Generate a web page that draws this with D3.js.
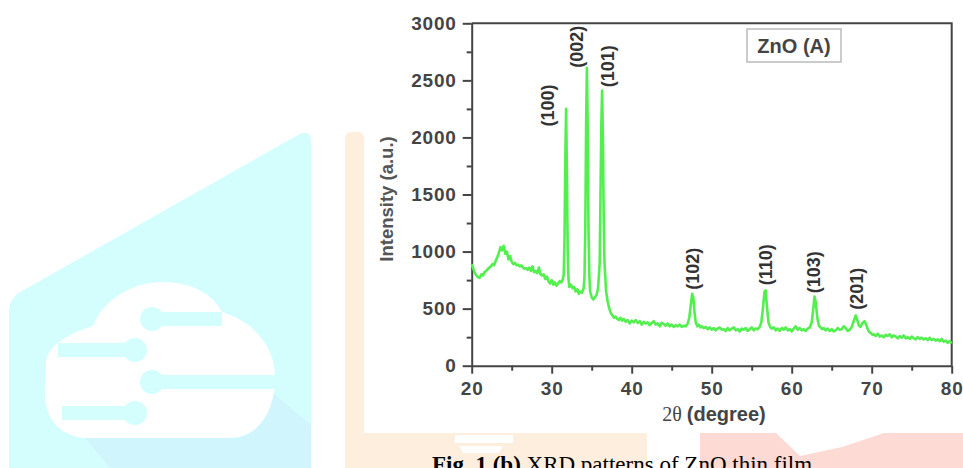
<!DOCTYPE html>
<html>
<head>
<meta charset="utf-8">
<script src="https://cdn.jsdelivr.net/npm/d3@7"></script>
<style>
  body { margin: 0; background: #fff; }
  svg { display: block; }
  .tick text { font-family: "Liberation Sans", Arial, sans-serif; font-weight: bold; font-size: 19px; fill: #444; letter-spacing: 0.8px; }
  .domain, .tick line { stroke: #444; stroke-width: 2; }
</style>
</head>
<body>
<svg width="963" height="468"></svg>
<script>
// XRD pattern of ZnO film (A)
const angle = [
  20.0, 20.2, 20.4, 20.6, 20.8, 21.0, 21.2, 21.4, 21.6, 21.8, 22.0, 22.2, 22.4, 22.6, 22.8,
  23.0, 23.2, 23.4, 23.6, 23.8, 24.0, 24.2, 24.4, 24.6, 24.8, 25.0, 25.2, 25.4, 25.6, 25.8,
  26.0, 26.2, 26.4, 26.6, 26.8, 27.0, 27.2, 27.4, 27.6, 27.8, 28.0, 28.2, 28.4, 28.6, 28.8,
  29.0, 29.2, 29.4, 29.6, 29.8, 30.0, 30.2, 30.4, 30.6, 30.8, 31.0, 31.2, 31.4, 31.5, 31.6,
  31.7, 31.8, 31.9, 32.0, 32.1, 32.2, 32.4, 32.6, 32.8, 33.0, 33.2, 33.4, 33.6, 33.8, 34.0,
  34.1, 34.2, 34.3, 34.4, 34.5, 34.6, 34.7, 34.8, 35.0, 35.2, 35.4, 35.6, 35.8, 36.0, 36.1,
  36.2, 36.3, 36.4, 36.5, 36.6, 36.8, 37.0, 37.2, 37.4, 37.6, 37.8, 38.0, 38.2, 38.4, 38.6,
  38.8, 39.0, 39.25, 39.5, 39.75, 40.0, 40.25, 40.5, 40.75, 41.0, 41.25, 41.5, 41.75, 42.0, 42.25,
  42.5, 42.75, 43.0, 43.25, 43.5, 43.75, 44.0, 44.25, 44.5, 44.75, 45.0, 45.25, 45.5, 45.75, 46.0,
  46.25, 46.5, 46.75, 47.0, 47.2, 47.4, 47.55, 47.7, 47.85, 48.0, 48.2, 48.4, 48.6, 48.8, 49.0,
  49.25, 49.5, 49.75, 50.0, 50.25, 50.5, 50.75, 51.0, 51.25, 51.5, 51.75, 52.0, 52.25, 52.5, 52.75,
  53.0, 53.25, 53.5, 53.75, 54.0, 54.25, 54.5, 54.75, 55.0, 55.25, 55.5, 55.75, 56.0, 56.2, 56.4,
  56.6, 56.75, 56.9, 57.1, 57.3, 57.5, 57.75, 58.0, 58.25, 58.5, 58.75, 59.0, 59.25, 59.5, 59.75,
  60.0, 60.25, 60.5, 60.75, 61.0, 61.25, 61.5, 61.75, 62.0, 62.25, 62.5, 62.7, 62.85, 63.0, 63.2,
  63.4, 63.6, 63.8, 64.0, 64.25, 64.5, 64.75, 65.0, 65.25, 65.5, 65.75, 66.0, 66.25, 66.5, 66.75,
  67.0, 67.25, 67.5, 67.8, 68.0, 68.2, 68.4, 68.6, 68.8, 69.1, 69.3, 69.5, 69.7, 69.9, 70.1,
  70.3, 70.5, 70.75, 71.0, 71.25, 71.5, 71.75, 72.0, 72.25, 72.5, 72.75, 73.0, 73.25, 73.5, 73.75,
  74.0, 74.25, 74.5, 74.75, 75.0, 75.25, 75.5, 75.75, 76.0, 76.25, 76.5, 76.75, 77.0, 77.25, 77.5,
  77.75, 78.0, 78.25, 78.5, 78.75, 79.0, 79.25, 79.5, 79.75, 80.0
];
const intensity = [
  890, 850, 810, 790, 775, 770, 800, 790, 820, 830, 845, 860, 870, 890, 880,
  920, 950, 990, 1040, 1010, 1050, 980, 1000, 930, 960, 910, 890, 900, 880, 885,
  870, 880, 860, 850, 855, 840, 860, 830, 870, 820, 830, 810, 860, 800, 790,
  800, 760, 780, 740, 720, 750, 710, 730, 700, 720, 740, 730, 760, 800, 1100,
  1800, 2250, 1700, 1000, 760, 690, 710, 680, 690, 650, 670, 630, 650, 640, 680,
  780, 1200, 2100, 2610, 2100, 1200, 800, 650, 600, 580, 600, 620, 680, 900, 1500,
  2100, 2410, 2000, 1300, 900, 650, 560, 500, 460, 440, 420, 430, 410, 400, 420,
  395, 410, 385, 400, 370, 395, 380, 400, 375, 390, 360, 385, 370, 380, 355,
  375, 390, 360, 370, 345, 375, 365, 350, 370, 345, 360, 340, 355, 345, 360,
  340, 350, 345, 370, 420, 540, 630, 600, 470, 380, 345, 360, 335, 345, 330,
  340, 320, 335, 315, 330, 310, 325, 335, 315, 320, 305, 330, 310, 325, 335,
  310, 320, 300, 325, 315, 330, 305, 320, 335, 310, 325, 320, 340, 380, 500,
  650, 660, 520, 380, 340, 325, 335, 310, 325, 305, 330, 315, 335, 310, 320,
  300, 325, 345, 315, 330, 310, 320, 305, 325, 335, 380, 500, 605, 560, 420,
  350, 335, 320, 330, 310, 325, 305, 320, 300, 310, 330, 315, 320, 345, 330,
  305, 315, 340, 400, 440, 400, 350, 340, 370, 390, 360, 320, 295, 285, 270,
  275, 260, 280, 255, 265, 250, 270, 260, 275, 250, 265, 255, 240, 260, 245,
  265, 240, 250, 235, 255, 240, 230, 250, 235, 245, 230, 240, 225, 245, 225,
  235, 220, 230, 215, 235, 210, 220, 200, 215, 195
];
// (hkl) labels: where each label sits (centre angle, lower end in counts)
const peakLabels = ["(100)", "(002)", "(101)", "(102)", "(110)", "(103)", "(201)"];
const labelAngle = [29.55, 33.15, 37.05, 47.65, 56.8, 62.8, 68.15];
const labelBase = [2095, 2610, 2440, 665, 705, 635, 490];
const xTicks = [20, 30, 40, 50, 60, 70, 80];
const xMinor = [25, 35, 45, 55, 65, 75];
const yTicks = [0, 500, 1000, 1500, 2000, 2500, 3000];
const yMinor = [250, 750, 1250, 1750, 2250, 2750];

const svg = d3.select("svg");

// --- page background around the figure (watermark shapes) ---
const bg = svg.append("g");
bg.append("path")
  .attr("d", "M9,468 L9,312 Q9,298 22,291 L298,135 Q311,128 311,142 L311,468 Z")
  .attr("fill", "#d4fefe");
bg.append("path")
  .attr("d", "M272,392 L311,425 L311,468 L110,468 L85,438 L240,438 Z")
  .attr("fill", "#d1f5fc");
bg.append("path")
  .attr("d", "M46,362 C48,345 68,334 93,326 C104,298 134,282 163,282 C194,282 214,296 222,312 C254,322 275,346 275,378 C275,410 259,438 230,438 L88,438 C62,438 45,420 45,395 Z")
  .attr("fill", "#fff");
const bars = [[152, 222, 319], [58, 135, 350], [152, 276, 382], [62, 135, 413]];
bars.forEach(b => {
  bg.append("rect").attr("x", b[0]).attr("y", b[2] - 7).attr("width", b[1] - b[0]).attr("height", 14).attr("fill", "#d4fefe");
});
[[152, 319], [135, 350], [152, 382], [135, 413]].forEach(c => {
  bg.append("circle").attr("cx", c[0]).attr("cy", c[1]).attr("r", 12).attr("fill", "#d4fefe");
});
bg.append("path").attr("d", "M345,468 L345,138 Q345,132 352,132 L360,132 Q364,134 364,140 L364,468 Z").attr("fill", "#fdeedd");
bg.append("rect").attr("x", 345).attr("y", 433).attr("width", 302).attr("height", 35).attr("fill", "#fdeedd");
bg.append("rect").attr("x", 455).attr("y", 435).attr("width", 58).attr("height", 8).attr("fill", "#fff");
bg.append("path").attr("d", "M459,446 L503,446 L499,453 L463,453 Z").attr("fill", "#fff");
bg.append("rect").attr("x", 700).attr("y", 433).attr("width", 263).attr("height", 35).attr("fill", "#fddad3");
bg.append("path").attr("d", "M776,433 L884,433 L842,447 L800,456 Z").attr("fill", "#fff");

// white figure panel
svg.append("rect").attr("x", 364).attr("y", 0).attr("width", 599).attr("height", 433).attr("fill", "#fff");

// --- chart ---
const x = d3.scaleLinear().domain([20, 80]).range([471.7, 951.7]);
const y = d3.scaleLinear().domain([0, 3000]).range([365.7, 23.3]);

// frame (top and right)
svg.append("path")
  .attr("d", `M${x(20)},${y(3000)} H${x(80)} V${y(0)}`)
  .attr("fill", "none").attr("stroke", "#444").attr("stroke-width", 2);

// minor ticks
svg.append("g").attr("transform", `translate(0,${y(0)})`)
  .call(d3.axisBottom(x).tickValues(xMinor).tickSize(5).tickFormat(""))
  .call(g => g.select(".domain").remove());
svg.append("g").attr("transform", `translate(${x(20)},0)`)
  .call(d3.axisLeft(y).tickValues(yMinor).tickSize(5).tickFormat(""))
  .call(g => g.select(".domain").remove());

// major axes
svg.append("g").attr("transform", `translate(0,${y(0)})`)
  .call(d3.axisBottom(x).tickValues(xTicks).tickSize(8).tickSizeOuter(0).tickPadding(8).tickFormat(d3.format("d")));
svg.append("g").attr("transform", `translate(${x(20)},0)`)
  .call(d3.axisLeft(y).tickValues(yTicks).tickSize(9).tickSizeOuter(0).tickPadding(6).tickFormat(d3.format("d")));

// pattern line
const line = d3.line()
  .x((d, i) => x(angle[i]))
  .y(d => y(d));
svg.append("path")
  .datum(intensity)
  .attr("d", line)
  .attr("fill", "none")
  .attr("stroke", "#52ef4f")
  .attr("stroke-width", 2.6)
  .attr("stroke-linejoin", "round");

// peak (hkl) labels
svg.selectAll(".peak")
  .data(peakLabels)
  .enter().append("text")
  .attr("class", "peak")
  .attr("transform", (d, i) => `translate(${x(labelAngle[i])},${y(labelBase[i])}) rotate(-90)`)
  .attr("dy", "0.35em")
  .attr("font-family", "Liberation Sans, Arial, sans-serif")
  .attr("font-weight", "bold")
  .attr("font-size", 18)
  .attr("fill", "#333")
  .text(d => d);

// sample box
svg.append("rect").attr("x", 747).attr("y", 29).attr("width", 94).attr("height", 33)
  .attr("fill", "#fff").attr("stroke", "#bbb").attr("stroke-width", 1.5);
svg.append("text").attr("x", 794).attr("y", 53)
  .attr("text-anchor", "middle")
  .attr("font-family", "Liberation Sans, Arial, sans-serif")
  .attr("font-weight", "bold").attr("font-size", 20).attr("fill", "#444")
  .text("ZnO (A)");

// axis titles
svg.append("text")
  .attr("transform", "translate(393,199) rotate(-90)")
  .attr("text-anchor", "middle")
  .attr("font-family", "Liberation Sans, Arial, sans-serif")
  .attr("font-weight", "bold")
  .attr("font-size", 18.5).attr("fill", "#555")
  .text("Intensity (a.u.)");

const xt = svg.append("text")
  .attr("x", 714).attr("y", 421)
  .attr("text-anchor", "middle")
  .attr("font-size", 20).attr("fill", "#444");
xt.append("tspan").attr("font-family", "Liberation Serif, serif").text("2θ ");
xt.append("tspan").attr("font-family", "Liberation Sans, Arial, sans-serif").attr("font-weight", "bold").text("(degree)");

// caption (cut by the bottom edge, as in the source)
const cap = svg.append("text")
  .attr("x", 432).attr("y", 472)
  .attr("font-family", "Liberation Serif, 'Times New Roman', serif")
  .attr("font-size", 23).attr("fill", "#000");
cap.append("tspan").attr("font-weight", "bold").text("Fig. 1 (b)");
cap.append("tspan").text(" XRD patterns of ZnO thin film");
</script>
</body>
</html>
